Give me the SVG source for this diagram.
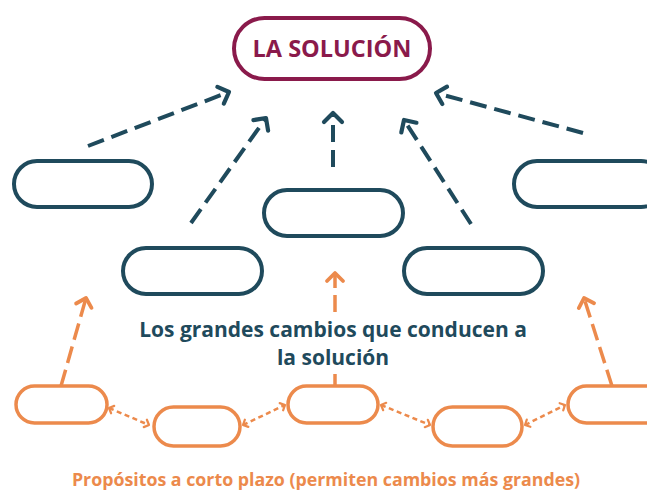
<svg xmlns="http://www.w3.org/2000/svg" width="647" height="490" viewBox="0 0 647 490">
<defs>
<style>
.nv{fill:none;stroke:#1f4a5c;stroke-width:4}
.or{fill:none;stroke:#ec8a4c;stroke-width:3.5}
.sol{fill:none;stroke:#8a1a4b;stroke-width:4}
.dk{fill:none;stroke:#1f4a5c;stroke-width:4;stroke-dasharray:17 8}
.oa{fill:none;stroke:#ec8a4c;stroke-width:3.5;stroke-dasharray:17 7}
.os{fill:none;stroke:#ec8a4c;stroke-width:2.5;stroke-dasharray:5 3.5}
text{font-family:"Open Sans","Liberation Sans",sans-serif;font-weight:700;text-anchor:middle}
</style>
<marker id="ahd" markerUnits="userSpaceOnUse" markerWidth="20" markerHeight="20" refX="11" refY="9" orient="auto" overflow="visible">
<path d="M2,0 L11,9 L2,18" fill="none" stroke="#1f4a5c" stroke-width="4.2" stroke-linecap="round" stroke-linejoin="round"/>
</marker>
<marker id="aho" markerUnits="userSpaceOnUse" markerWidth="20" markerHeight="20" refX="10" refY="8" orient="auto" overflow="visible">
<path d="M2,0 L10,8 L2,16" fill="none" stroke="#ec8a4c" stroke-width="3.8" stroke-linecap="round" stroke-linejoin="round"/>
</marker>
<marker id="ahs" markerUnits="userSpaceOnUse" markerWidth="10" markerHeight="10" refX="5" refY="4" orient="auto-start-reverse" overflow="visible">
<path d="M1,0 L5,4 L1,8" fill="none" stroke="#ec8a4c" stroke-width="2.2" stroke-linecap="round" stroke-linejoin="round"/>
</marker>
</defs>
<rect width="647" height="490" fill="#ffffff"/>

<g id="solucion">
<rect class="sol" x="234" y="18" width="196" height="61" rx="30.5"/>
<text x="332" y="57" font-size="23.5" fill="#8a1a4b">LA SOLUCIÓN</text>
</g>

<g id="n1"><rect class="nv" x="14" y="161" width="138" height="46" rx="23"/></g>
<g id="n2"><rect class="nv" x="123" y="248" width="139" height="46" rx="23"/></g>
<g id="n3"><rect class="nv" x="264" y="190" width="139" height="46" rx="23"/></g>
<g id="n4"><rect class="nv" x="404" y="248" width="139" height="46" rx="23"/></g>
<g id="n5"><rect class="nv" x="514" y="161" width="150" height="46" rx="23"/></g>

<g id="o1"><rect class="or" x="16" y="386" width="91" height="37" rx="18.5"/></g>
<g id="o2"><rect class="or" x="154" y="407" width="86" height="39" rx="19.5"/></g>
<g id="o3"><rect class="or" x="288" y="386" width="90" height="37" rx="18.5"/></g>
<g id="o4"><rect class="or" x="433" y="407" width="89" height="39" rx="19.5"/></g>
<g id="o5"><rect class="or" x="568" y="386" width="100" height="37" rx="18.5"/></g>

<g id="labels">
<text x="333" y="337" font-size="21" fill="#1f4a5c">Los grandes cambios que conducen a</text>
<text x="333" y="365" font-size="21" fill="#1f4a5c">la solución</text>
<text x="326" y="486" font-size="17.8" fill="#ec8a4c">Propósitos a corto plazo (permiten cambios más grandes)</text>
</g>

<g id="connectors">
<line class="dk" x1="88" y1="146" x2="229" y2="92" marker-end="url(#ahd)"/>
<line class="dk" x1="191" y1="223" x2="266" y2="118" marker-end="url(#ahd)"/>
<line class="dk" x1="333" y1="167" x2="333" y2="113" marker-end="url(#ahd)"/>
<line class="dk" x1="471" y1="224" x2="404" y2="120" marker-end="url(#ahd)"/>
<line class="dk" x1="583" y1="133" x2="436" y2="93" marker-end="url(#ahd)"/>

<line class="oa" x1="61" y1="386" x2="86" y2="298" marker-end="url(#aho)"/>
<line class="oa" x1="612" y1="386" x2="584" y2="298" marker-end="url(#aho)"/>
<line class="or" x1="335" y1="374" x2="335" y2="386"/>
<line class="oa" x1="335" y1="312" x2="335" y2="273" marker-end="url(#aho)"/>

<line class="os" x1="109" y1="408" x2="149" y2="425" marker-start="url(#ahs)" marker-end="url(#ahs)"/>
<line class="os" x1="243" y1="425" x2="285" y2="405" marker-start="url(#ahs)" marker-end="url(#ahs)"/>
<line class="os" x1="381" y1="405" x2="430" y2="425" marker-start="url(#ahs)" marker-end="url(#ahs)"/>
<line class="os" x1="525" y1="425" x2="565" y2="405" marker-start="url(#ahs)" marker-end="url(#ahs)"/>
</g>
</svg>
